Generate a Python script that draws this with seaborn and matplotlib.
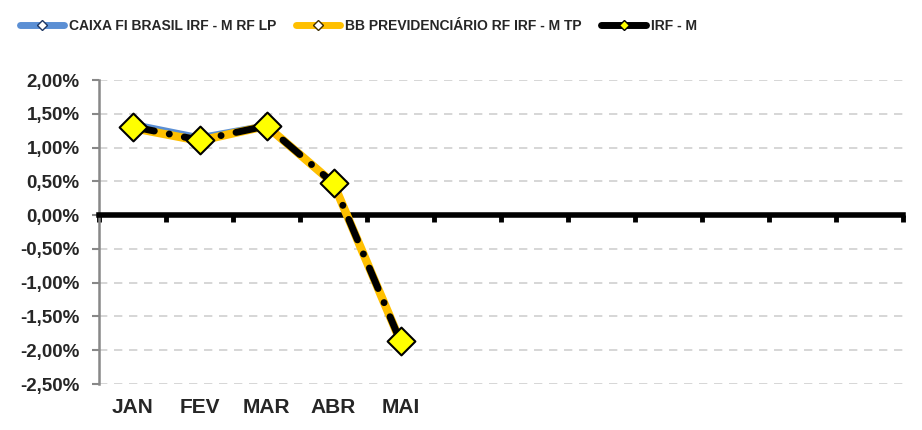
import matplotlib
matplotlib.use("Agg")
import matplotlib.pyplot as plt
from matplotlib.lines import Line2D
import seaborn as sns
import pandas as pd

MONTHS = ["JAN", "FEV", "MAR", "ABR", "MAI", "", "", "", "", "", "", ""]
CAIXA = [1.36, 1.16, 1.34, 0.43, -1.86]
BB = [1.29, 1.10, 1.32, 0.47, -1.87]
IRFM = [1.31, 1.11, 1.32, 0.47, -1.87]
SERIES = ["CAIXA FI BRASIL IRF - M RF LP", "BB PREVIDENCIÁRIO RF IRF - M TP", "IRF - M"]
YTICKS = [2.0, 1.5, 1.0, 0.5, 0.0, -0.5, -1.0, -1.5, -2.0, -2.5]

BLUE = "#5B8FD4"
ORANGE = "#FFC000"
YELLOW = "#FFFF00"

sns.set_theme(style="white")
plt.rcParams["font.family"] = ["Liberation Sans", "DejaVu Sans"]
plt.rcParams["font.weight"] = "bold"

x = [i + 0.5 for i in range(len(CAIXA))]
df = pd.DataFrame({"x": x, "caixa": CAIXA, "bb": BB, "irfm": IRFM})

fig = plt.figure(figsize=(9.22, 4.30), dpi=100)
ax = fig.add_axes([99 / 922, 1 - 384 / 430, 804 / 922, 304 / 430])

# grid
for v in YTICKS:
    ax.axhline(v, color="#D0D0D0", lw=1.2, ls=(0, (5, 4)), zorder=0)

sns.lineplot(data=df, x="x", y="caixa", ax=ax, color=BLUE, lw=3.5, zorder=2,
             marker="D", markersize=8, markerfacecolor="white", markeredgecolor="#1F3864")
sns.lineplot(data=df, x="x", y="bb", ax=ax, color=ORANGE, lw=6, zorder=3,
             marker="D", markersize=8, markerfacecolor="white", markeredgecolor="#7F6000")
sns.lineplot(data=df, x="x", y="irfm", ax=ax, color="black", lw=5, zorder=4,
             dashes=False, linestyle=(0, (3.2, 2.2, 0.01, 2.2)), dash_capstyle="round",
             marker=None)
sns.scatterplot(data=df, x="x", y="irfm", ax=ax, marker="D", s=200, color=YELLOW,
                edgecolor="black", linewidth=1.5, zorder=5)

ax.set_xlim(0, len(MONTHS))
ax.set_ylim(-2.5, 2.0)
ax.set_xlabel("")
ax.set_ylabel("")

# y axis
ax.set_yticks(YTICKS)
ax.set_yticklabels([f"{v:.2f}%".replace(".", ",") for v in YTICKS], fontsize=13.5, fontweight="bold")
ax.tick_params(axis="y", left=True, direction="out", length=5, width=1.5, color="#888888", pad=9)

# x axis at zero
ax.spines["bottom"].set_position(("data", 0))
ax.spines["bottom"].set_linewidth(4)
ax.spines["bottom"].set_color("black")
ax.spines["left"].set_color("#888888")
ax.spines["left"].set_linewidth(1.8)
ax.spines["top"].set_visible(False)
ax.spines["right"].set_visible(False)
ax.set_xticks(range(len(MONTHS) + 1))
ax.set_xticklabels([])
ax.tick_params(axis="x", bottom=True, direction="out", length=5, width=3.5, color="black")
for i, m in enumerate(MONTHS):
    ax.text(i + 0.5, -0.045, m, transform=ax.get_xaxis_transform(), ha="center", va="top",
            fontsize=15, fontweight="bold")

handles = [
    Line2D([], [], color=BLUE, lw=5, marker="D", markersize=5, markerfacecolor="white",
           markeredgecolor="#1F3864"),
    Line2D([], [], color=ORANGE, lw=5, marker="D", markersize=5, markerfacecolor="white",
           markeredgecolor="#3F3000"),
    Line2D([], [], color="black", lw=5, marker="D", markersize=5, markerfacecolor=YELLOW,
           markeredgecolor="black"),
]
fig.legend(handles, SERIES, loc="upper left", bbox_to_anchor=(0.008, 0.985), ncol=3,
           frameon=False, handlelength=3.2, columnspacing=1.4, handletextpad=0.35,
           prop={"size": 10, "weight": "bold"})

fig.savefig("out.png", dpi=100)
